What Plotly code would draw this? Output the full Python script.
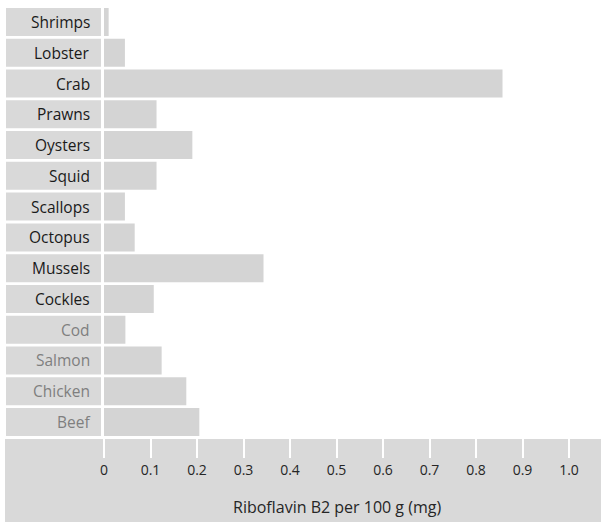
import plotly.graph_objects as go

# Riboflavin (vitamin B2) content per 100 g of food
foods = ["Shrimps", "Lobster", "Crab", "Prawns", "Oysters", "Squid", "Scallops",
         "Octopus", "Mussels", "Cockles", "Cod", "Salmon", "Chicken", "Beef"]
riboflavin_mg = [0.01, 0.045, 0.857, 0.113, 0.19, 0.113, 0.045,
                 0.066, 0.343, 0.107, 0.046, 0.124, 0.177, 0.205]
is_shellfish = [True] * 10 + [False] * 4

tick_vals = [0, 0.1, 0.2, 0.3, 0.4, 0.5, 0.6, 0.7, 0.8, 0.9, 1.0]
tick_text = ["0", "0.1", "0.2", "0.3", "0.4", "0.5", "0.6", "0.7", "0.8", "0.9", "1.0"]

W, H = 601, 522
FONT = "Open Sans"
BOX = "#d9d9d9"
BAR = "#d4d4d4"

fig = go.Figure()

# Label boxes on the left
fig.add_trace(go.Bar(
    y=foods, x=[1] * len(foods), orientation="h",
    xaxis="x2", yaxis="y",
    marker=dict(color=BOX, line=dict(width=0)),
    hoverinfo="skip", showlegend=False,
))

# Riboflavin bars
fig.add_trace(go.Bar(
    y=foods, x=riboflavin_mg, orientation="h",
    xaxis="x", yaxis="y",
    marker=dict(color=BAR, line=dict(width=0)),
    showlegend=False,
))

annotations = []
for name, shell in zip(foods, is_shellfish):
    annotations.append(dict(
        x=1, xref="x2", y=name, yref="y",
        text=name, showarrow=False, xanchor="right", xshift=-9,
        font=dict(family=FONT, size=15.5, color="#1a1a1a" if shell else "#7f7f7f"),
    ))

annotations.append(dict(
    x=0.5, xref="x", y=1 - 507 / H, yref="paper",
    text="Riboflavin B2 per 100 g (mg)", showarrow=False,
    xanchor="center", yanchor="middle",
    font=dict(family=FONT, size=16, color="#262626"),
))

x0_px = 104
px_per_unit = 465
fig.update_layout(
    width=W, height=H,
    margin=dict(l=0, r=0, t=0, b=0, pad=0, autoexpand=False),
    paper_bgcolor="white", plot_bgcolor="rgba(0,0,0,0)",
    bargap=0.09,
    xaxis=dict(
        domain=[x0_px / W, 1], range=[0, (W - x0_px) / px_per_unit],
        anchor="y", showgrid=False, zeroline=False, showline=False,
        tickmode="array", tickvals=tick_vals, ticktext=tick_text,
        ticks="outside", ticklen=20, tickwidth=2, tickcolor="white",
        tickfont=dict(family=FONT, size=14, color="#262626"),
        automargin=False,
    ),
    xaxis2=dict(
        domain=[6 / W, 101 / W], range=[0, 1], anchor="y",
        visible=False, fixedrange=True, automargin=False,
    ),
    yaxis=dict(
        domain=[1 - 437.4 / H, 1 - 6.6 / H],
        type="category", categoryorder="array", categoryarray=foods,
        range=[len(foods) - 0.5, -0.5],
        showticklabels=False, showgrid=False, zeroline=False, showline=False,
        anchor="x", automargin=False,
    ),
    shapes=[dict(
        type="rect", xref="paper", yref="paper",
        x0=5 / W, x1=1, y0=0, y1=1 - 439 / H,
        fillcolor=BOX, line=dict(width=0), layer="below",
    )],
    annotations=annotations,
)

fig.write_html("out.html")
